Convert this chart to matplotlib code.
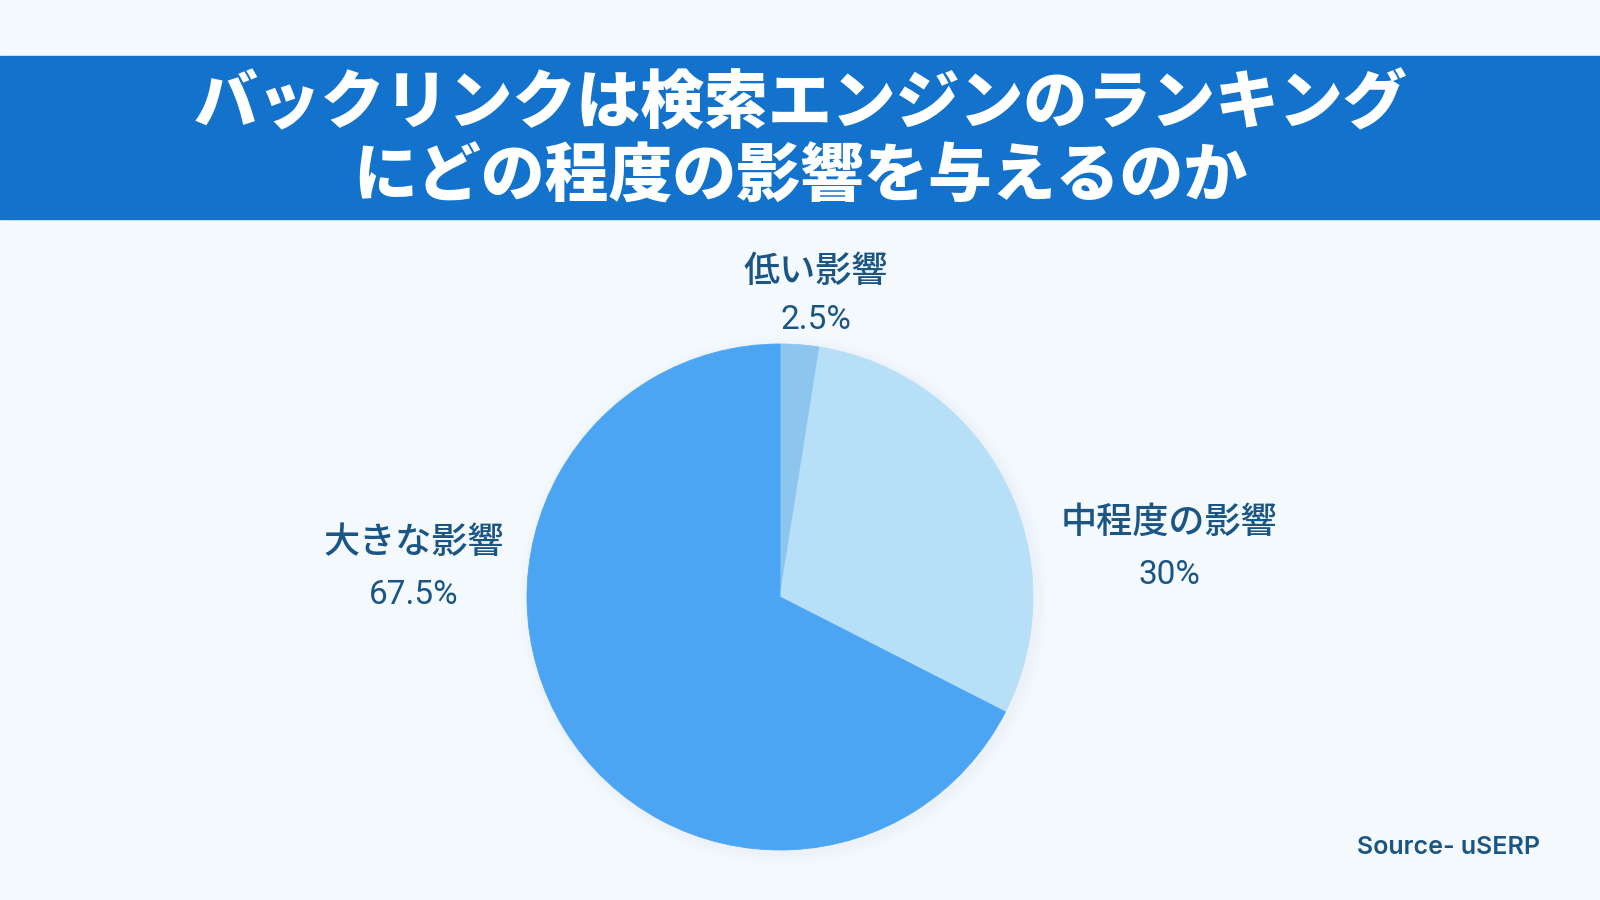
import matplotlib
matplotlib.use("Agg")
import matplotlib.pyplot as plt
from matplotlib.patches import Rectangle

plt.rcParams['font.family'] = ['Noto Sans CJK JP', 'DejaVu Sans']

# data
labels = ["低い影響", "中程度の影響", "大きな影響"]
values = [2.5, 30, 67.5]
pct_labels = ["2.5%", "30%", "67.5%"]
colors = ["#8CC5EE", "#B8DFF8", "#4BA5F3"]

BG = "#F4F9FE"
HEADER = "#1272CC"
TXT = "#1B5584"
W, H = 1600, 900

fig = plt.figure(figsize=(16, 9), dpi=100, facecolor=BG)

# header band
fig.patches.append(Rectangle((0, 1 - 219 / H), 1, (219 - 56) / H,
                             transform=fig.transFigure, color=HEADER, zorder=0))
fig.text(0.5, 1 - 105 / H, "バックリンクは検索エンジンのランキング",
         ha="center", va="center", color="white", fontsize=46, fontweight="black")
fig.text(0.5, 1 - 178 / H, "にどの程度の影響を与えるのか",
         ha="center", va="center", color="white", fontsize=46, fontweight="black")

# pie
cx, cy, r = 780, 597, 253
ax = fig.add_axes([(cx - r * 1.05) / W, (H - cy - r * 1.05) / H, 2.1 * r / W, 2.1 * r / H])
ax.set_facecolor(BG)
# soft shadow
for i, a in enumerate([0.025, 0.02, 0.015, 0.01]):
    ax.add_patch(plt.Circle((0.012, -0.012), 1.0 + 0.012 * (i + 1), color="#9FB4C8",
                            alpha=a, lw=0, zorder=0))
wedges, _ = ax.pie(values, colors=colors, startangle=90, counterclock=False,
                   wedgeprops=dict(linewidth=0.6))
for w, c in zip(wedges, colors):
    w.set_edgecolor(c)
ax.set_xlim(-1.05, 1.05)
ax.set_ylim(-1.05, 1.05)
ax.set_aspect("equal")
ax.axis("off")

# labels
label_pos = [(816, 272, 320), (1169, 523, 575), (414, 543, 595)]
for name, pct, (x, y1, y2) in zip(labels, pct_labels, label_pos):
    fig.text(x / W, 1 - y1 / H, name, ha="center", va="center", color=TXT,
             fontsize=26, fontweight="medium")
    fig.text(x / W, 1 - y2 / H, pct, ha="center", va="center", color=TXT, fontsize=24,
             fontweight="normal", family=["Roboto", "DejaVu Sans"])

fig.text(1449 / W, 1 - 848 / H, "Source- uSERP", ha="center", va="center",
         color=TXT, fontsize=18, fontweight="semibold", family=["Inter", "DejaVu Sans"])

fig.savefig("out.png", dpi=100, facecolor=BG)
